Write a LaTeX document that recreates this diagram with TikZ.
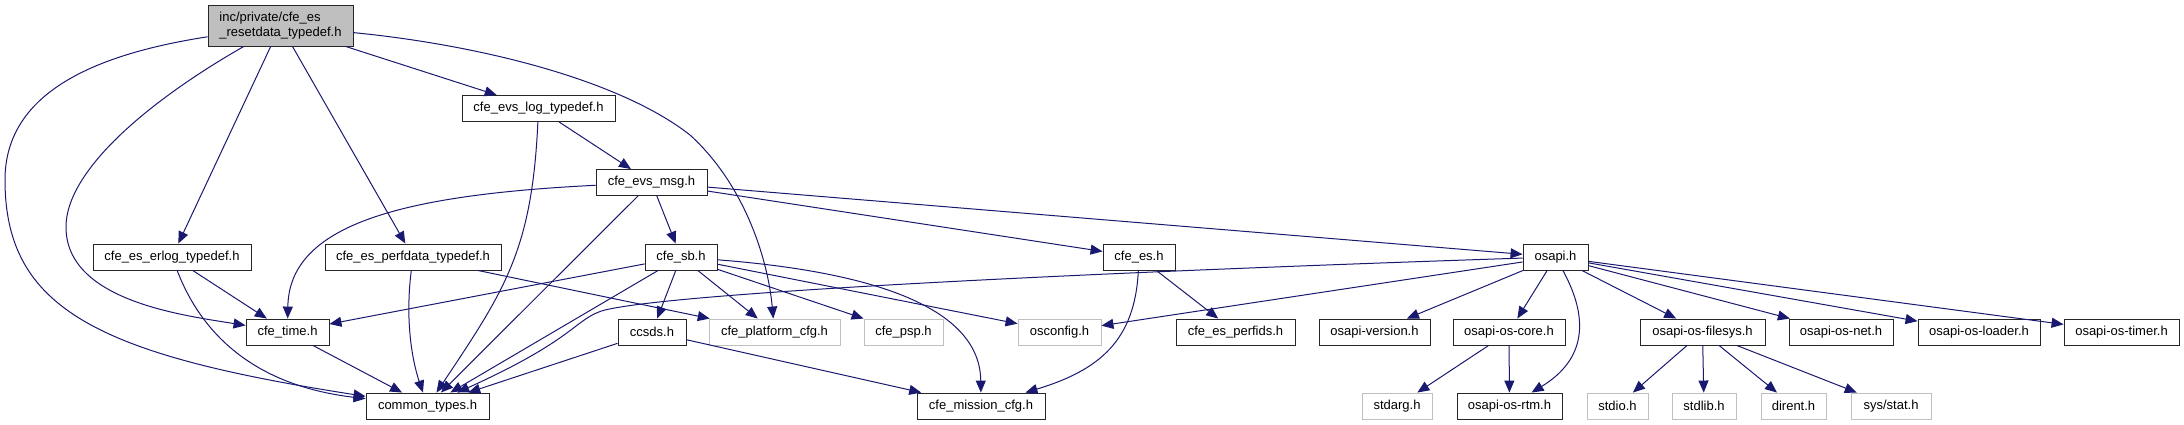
\documentclass[tikz,border=0pt]{standalone}
\usepackage{fontspec}
\setmainfont{Liberation Sans}
\usepackage{tikz}
\usetikzlibrary{arrows.meta,positioning}
\usepackage{xcolor}
\definecolor{edgeblue}{HTML}{191970}
\definecolor{boxgray}{HTML}{BFBFBF}

\begin{document}
\begin{tikzpicture}[x=1pt, y=-1pt, font=\fontsize{13}{15}\selectfont,
  hdr/.style={draw=black!85, line width=0.9pt, fill=white, minimum height=26pt, inner sep=0pt},
  miss/.style={hdr, draw=boxgray},
  dep/.style={draw=edgeblue, line width=1pt, -{Triangle[length=12pt,width=10pt]}}]
  \useasboundingbox (0,0) rectangle (2184,425);
  \node[hdr,fill=boxgray,align=left,minimum width=145pt,minimum height=41pt] (root) at (280.5,25.5) {inc/private/cfe\_es\\\_resetdata\_typedef.h};
  \node[hdr,minimum width=153pt] (evslog) at (538.5,108.5) {cfe\_evs\_log\_typedef.h};
  \node[hdr,minimum width=111pt] (evsmsg) at (651.5,182.5) {cfe\_evs\_msg.h};
  \node[hdr,minimum width=158pt] (erlog) at (172,257) {cfe\_es\_erlog\_typedef.h};
  \node[hdr,minimum width=176pt] (perfdata) at (413,257) {cfe\_es\_perfdata\_typedef.h};
  \node[hdr,minimum width=72pt] (sb) at (681,257) {cfe\_sb.h};
  \node[hdr,minimum width=72pt] (cfees) at (1139,257) {cfe\_es.h};
  \node[hdr,minimum width=65pt] (osapi) at (1555.5,257) {osapi.h};
  \node[hdr,minimum width=83pt] (time) at (287.5,332) {cfe\_time.h};
  \node[hdr,minimum width=68pt] (ccsds) at (652,332) {ccsds.h};
  \node[miss,minimum width=131pt] (platform) at (774.5,332) {cfe\_platform\_cfg.h};
  \node[miss,minimum width=79pt] (psp) at (903.5,332) {cfe\_psp.h};
  \node[miss,minimum width=83pt] (osconfig) at (1059.5,332) {osconfig.h};
  \node[hdr,minimum width=119pt] (perfids) at (1235.5,332) {cfe\_es\_perfids.h};
  \node[hdr,minimum width=111pt] (version) at (1374.5,332) {osapi-version.h};
  \node[hdr,minimum width=112pt] (core) at (1509,332) {osapi-os-core.h};
  \node[hdr,minimum width=125pt] (filesys) at (1702.5,332) {osapi-os-filesys.h};
  \node[hdr,minimum width=104pt] (net) at (1841,332) {osapi-os-net.h};
  \node[hdr,minimum width=122pt] (loader) at (1979,332) {osapi-os-loader.h};
  \node[hdr,minimum width=115pt] (timer) at (2121.5,332) {osapi-os-timer.h};
  \node[hdr,minimum width=123pt] (common) at (427.5,406) {common\_types.h};
  \node[hdr,minimum width=128pt] (mission) at (981,406) {cfe\_mission\_cfg.h};
  \node[miss,minimum width=70pt] (stdarg) at (1397,406) {stdarg.h};
  \node[hdr,minimum width=105pt] (rtm) at (1509.5,406) {osapi-os-rtm.h};
  \node[miss,minimum width=61pt] (stdio) at (1617.5,406) {stdio.h};
  \node[miss,minimum width=64pt] (stdlib) at (1704,406) {stdlib.h};
  \node[miss,minimum width=65pt] (dirent) at (1793.5,406) {dirent.h};
  \node[miss,minimum width=80pt] (sysstat) at (1891,406) {sys/stat.h};
  \draw[dep] (root) .. controls (90,55) and (5,95) .. (5,180) .. controls (5,310) and (100,355) .. (common);
  \draw[dep] (root) .. controls (150,100) and (66,170) .. (66,227) .. controls (66,300) and (180,315) .. (time);
  \draw[dep] (root) -- (erlog);
  \draw[dep] (root) -- (perfdata);
  \draw[dep] (root) -- (evslog);
  \draw[dep] (root) .. controls (480,45) and (620,80) .. (690,135) .. controls (745,185) and (768,260) .. (platform);
  \draw[dep] (evslog) -- (evsmsg);
  \draw[dep] (evslog) .. controls (532,250) and (505,290) .. (common);
  \draw[dep] (evsmsg) .. controls (400,195) and (289,225) .. (time);
  \draw[dep] (evsmsg) -- (common);
  \draw[dep] (evsmsg) -- (sb);
  \draw[dep] (evsmsg) -- (cfees);
  \draw[dep] (evsmsg) -- (osapi);
  \draw[dep] (erlog) -- (time);
  \draw[dep] (erlog) .. controls (200,330) and (250,385) .. (common);
  \draw[dep] (perfdata) .. controls (405,320) and (412,360) .. (common);
  \draw[dep] (perfdata) -- (platform);
  \draw[dep] (sb) -- (time);
  \draw[dep] (sb) -- (common);
  \draw[dep] (sb) -- (ccsds);
  \draw[dep] (sb) -- (platform);
  \draw[dep] (sb) -- (psp);
  \draw[dep] (sb) -- (osconfig);
  \draw[dep] (sb) .. controls (850,270) and (980,300) .. (mission);
  \draw[dep] (time) -- (common);
  \draw[dep] (ccsds) -- (common);
  \draw[dep] (ccsds) -- (mission);
  \draw[dep] (cfees) -- (perfids);
  \draw[dep] (cfees) .. controls (1135,340) and (1100,370) .. (mission);
  \draw[dep] (osapi) .. controls (1100,272) and (680,292) .. (605,310) .. controls (575,318) and (578,338) .. (common);
  \draw[dep] (osapi) -- (osconfig);
  \draw[dep] (osapi) -- (version);
  \draw[dep] (osapi) -- (core);
  \draw[dep] (osapi) .. controls (1590,320) and (1585,360) .. (rtm);
  \draw[dep] (osapi) -- (filesys);
  \draw[dep] (osapi) -- (net);
  \draw[dep] (osapi) -- (loader);
  \draw[dep] (osapi) -- (timer);
  \draw[dep] (core) -- (stdarg);
  \draw[dep] (core) -- (rtm);
  \draw[dep] (filesys) -- (stdio);
  \draw[dep] (filesys) -- (stdlib);
  \draw[dep] (filesys) -- (dirent);
  \draw[dep] (filesys) -- (sysstat);
\end{tikzpicture}
\end{document}
